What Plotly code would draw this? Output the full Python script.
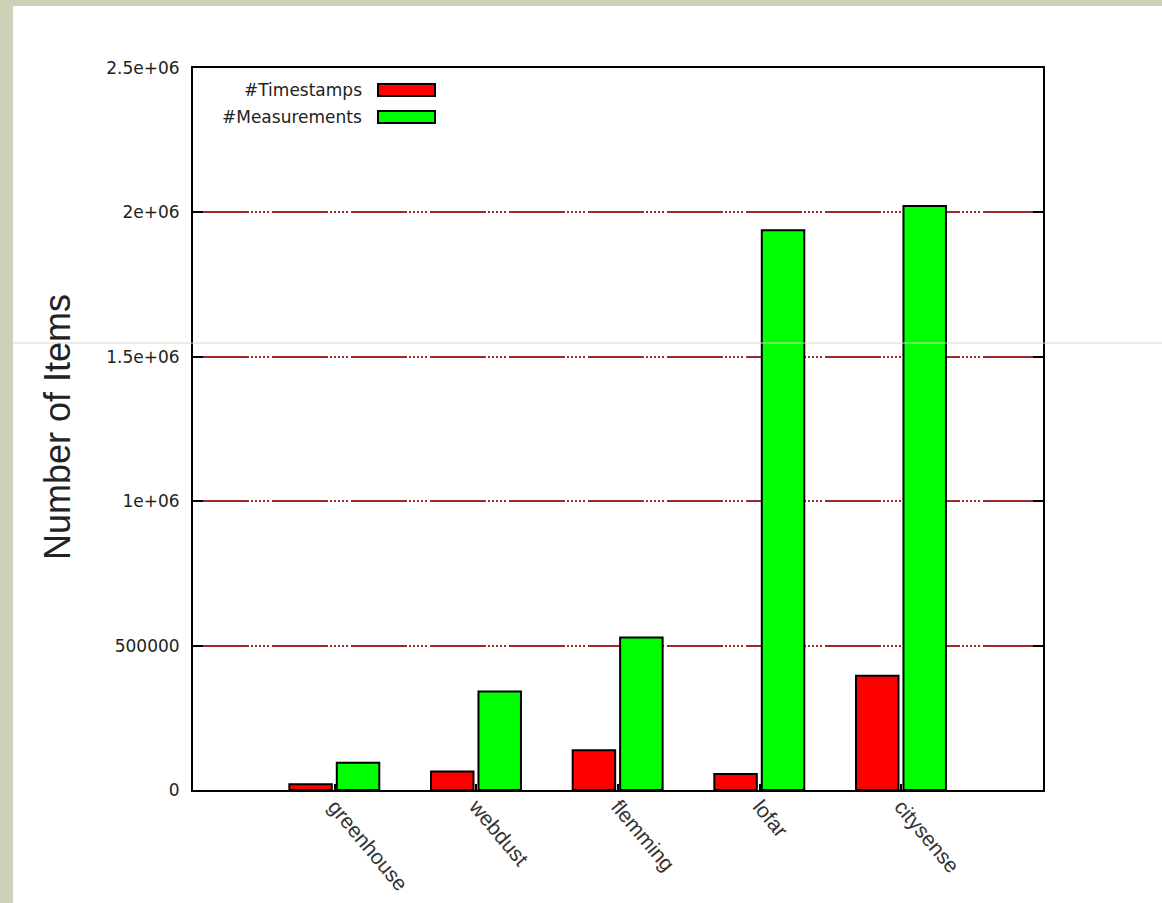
import plotly.graph_objects as go

categories = ["greenhouse", "webdust", "flemming", "lofar", "citysense"]
timestamps = [20000, 64000, 138000, 55000, 396000]
measurements = [94000, 341000, 528000, 1938000, 2022000]
y_tickvals = [0, 500000, 1000000, 1500000, 2000000, 2500000]
y_ticktext = ["0", "500000", "1e+06", "1.5e+06", "2e+06", "2.5e+06"]
legend_names = ["#Timestamps", "#Measurements"]

W, H = 1162, 903
L, R, T, B = 193, 1043, 68, 790


def px2x(px):
    return (px - L) / (R - L)


def py2y(py):
    return (B - py) / (B - T)


xpos = list(range(1, len(categories) + 1))
RED = "#FF0000"
GREEN = "#00FF00"

fig = go.Figure()
fig.add_trace(go.Bar(x=xpos, y=timestamps, name=legend_names[0], offset=-0.32, width=0.30,
                     marker=dict(color=RED, line=dict(color="black", width=2)), showlegend=False))
fig.add_trace(go.Bar(x=xpos, y=measurements, name=legend_names[1], offset=0.015, width=0.30,
                     marker=dict(color=GREEN, line=dict(color="black", width=2)), showlegend=False))

fig.update_layout(
    width=W, height=H,
    margin=dict(l=L, r=W - R, t=T, b=H - B, pad=0, autoexpand=False),
    paper_bgcolor="white", plot_bgcolor="white",
    barmode="overlay",
    font=dict(family="DejaVu Sans", color="#222222"),
)
fig.update_xaxes(
    automargin=False,
    range=[0, 6], tickmode="array", tickvals=xpos, ticktext=categories,
    tickangle=50, tickfont=dict(family="Liberation Sans", size=21, color="#333333"),
    ticks="inside", ticklen=6, tickwidth=2, tickcolor="black",
    ticklabelstandoff=-6,
    showline=True, linecolor="black", linewidth=2, mirror=True,
    showgrid=False, zeroline=False,
)
fig.update_yaxes(
    automargin=False,
    range=[0, 2500000], tickmode="array", tickvals=y_tickvals, ticktext=y_ticktext,
    tickfont=dict(family="DejaVu Sans", size=17, color="#222222"),
    ticks="inside", ticklen=10, tickwidth=2, tickcolor="black",
    ticklabelstandoff=8,
    showline=True, linecolor="black", linewidth=2, mirror="ticks",
    showgrid=True, gridcolor="#A02A2B", gridwidth=2,
    griddash="56px,2px,2px,2px,2px,2px,2px,2px,2px,2px,2px,3px",
    zeroline=False,
)

shapes = []
frame_col = "#CDD1B8"
# slide frame
shapes.append(dict(type="rect", xref="paper", yref="paper", x0=px2x(0), x1=px2x(13),
                   y0=py2y(H), y1=py2y(0), fillcolor=frame_col, line=dict(width=0), layer="above"))
shapes.append(dict(type="rect", xref="paper", yref="paper", x0=px2x(0), x1=px2x(W),
                   y0=py2y(6), y1=py2y(0), fillcolor=frame_col, line=dict(width=0), layer="above"))
shapes.append(dict(type="line", xref="paper", yref="paper", x0=px2x(13), x1=px2x(W),
                   y0=py2y(343), y1=py2y(343), line=dict(color="#DAD8C4", width=1), layer="above"))
# legend swatches
for i, (name, col) in enumerate(zip(legend_names, [RED, GREEN])):
    yc = 90 + 27 * i
    shapes.append(dict(type="rect", xref="paper", yref="paper", x0=px2x(378), x1=px2x(435),
                       y0=py2y(yc + 6), y1=py2y(yc - 6), fillcolor=col,
                       line=dict(color="black", width=2), layer="above"))

annotations = []
for i, name in enumerate(legend_names):
    yc = 90 + 27 * i
    annotations.append(dict(text=name, xref="paper", yref="paper", x=px2x(364), y=py2y(yc),
                            xanchor="right", yanchor="middle", showarrow=False,
                            font=dict(family="DejaVu Sans", size=17, color="#222222")))
annotations.append(dict(text="Number of Items", xref="paper", yref="paper", x=px2x(57), y=py2y(427),
                        xanchor="center", yanchor="middle", textangle=-90, showarrow=False,
                        font=dict(family="Liberation Sans", size=36, color="#222222")))

fig.update_layout(shapes=shapes, annotations=annotations)
fig.write_html("out.html")
